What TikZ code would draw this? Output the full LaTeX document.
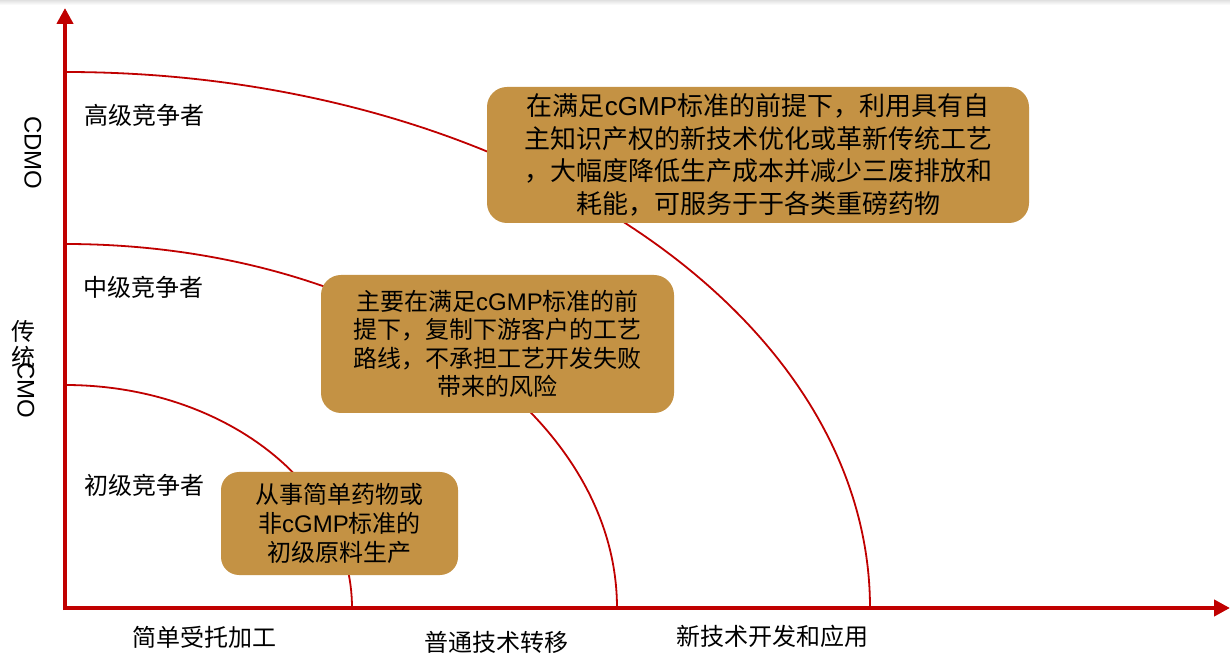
\documentclass[tikz,border=0pt]{standalone}
\usepackage{fontspec}
\setmainfont{Noto Sans CJK SC}
\newfontfamily\lat{Liberation Sans}
\usetikzlibrary{arrows.meta}
\definecolor{axred}{RGB}{192,0,0}
\definecolor{boxgold}{RGB}{196,146,68}
\begin{document}
\begin{tikzpicture}[x=1pt,y=1pt,
  axis/.style={draw=axred, line width=4pt, -{Triangle[width=16pt,length=16pt]}},
  tier/.style={draw=axred, line width=1.8pt},
  infobox/.style={fill=boxgold, rounded corners=20pt, align=center, text=black, inner sep=0pt},
  lbl/.style={font=\fontsize{24}{29}\selectfont, text=black, inner sep=0pt}]
\useasboundingbox (0,0) rectangle (1230,653);
\fill[white] (0,0) rectangle (1230,653);
\shade[top color=black!12, bottom color=white] (0,648) rectangle (1230,653);
% axes
\coordinate (ybase) at (65,43);
\coordinate (xbase) at (63,45);
\coordinate (ytip) at (65,645);
\coordinate (xtip) at (1230,45);
\draw[axis] (ybase) -- (ytip);
\draw[axis] (xbase) -- (xtip);
% tier curves
\coordinate (t3) at (65,581);
\coordinate (t2) at (65,409);
\coordinate (t1) at (65,268);
\draw[tier] (t3) arc[start angle=90, end angle=0, x radius=805pt, y radius=536pt];
\draw[tier] (t2) arc[start angle=90, end angle=0, x radius=552pt, y radius=364pt];
\draw[tier] (t1) arc[start angle=90, end angle=0, x radius=287pt, y radius=223pt];
% boxes
\node[infobox, minimum width=542pt, minimum height=136pt, font=\fontsize{26}{32.7}\selectfont] (b1) at (758,498)
 {在满足{\lat cGMP}标准的前提下，利用具有自\\主知识产权的新技术优化或革新传统工艺\\，大幅度降低生产成本并减少三废排放和\\耗能，可服务于于各类重磅药物};
\node[infobox, minimum width=353pt, minimum height=138pt, font=\fontsize{24}{28.5}\selectfont] (b2) at (497.5,309)
 {主要在满足{\lat cGMP}标准的前\\提下，复制下游客户的工艺\\路线，不承担工艺开发失败\\带来的风险};
\node[infobox, rounded corners=18pt, minimum width=237pt, minimum height=103pt, font=\fontsize{24}{29}\selectfont] (b3) at (339.5,129.5)
 {从事简单药物或\\非{\lat cGMP}标准的\\初级原料生产};
% tier labels
\node[lbl] (gao) at (144.5,538) {高级竞争者};
\node[lbl] (zhong) at (143,366) {中级竞争者};
\node[lbl] (chu) at (144,168) {初级竞争者};
% x labels
\node[lbl] (xa) at (204,16) {简单受托加工};
\node[lbl] (xb) at (496.5,11) {普通技术转移};
\node[lbl] (xc) at (772.5,17) {新技术开发和应用};
% y labels
\node[lbl, rotate=-90, font=\lat\fontsize{24}{29}\selectfont] (cdmo) at (33,500) {CDMO};
\node[lbl] (chuan) at (24,322) {传};
\node[lbl] (tong) at (24,296) {统};
\node[lbl, rotate=-90, font=\lat\fontsize{24}{29}\selectfont] (cmo) at (26,263) {CMO};
\end{tikzpicture}
\end{document}
